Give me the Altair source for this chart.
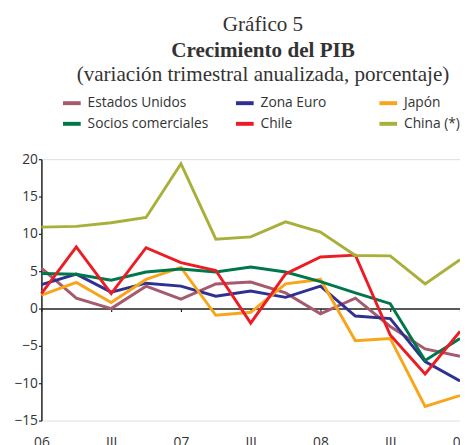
import altair as alt
import pandas as pd

# Quarters 2006 Q1 .. 2009 Q1 (index 0..12)
quarters = list(range(13))
tick_values = [0, 2, 4, 6, 8, 10, 12]
tick_labels = ["06", "III", "07", "III", "08", "III", "09"]

series_names = ["Estados Unidos", "Zona Euro", "Japón",
                "Socios comerciales", "Chile", "China (*)"]
series_colors = ["#a55a6e", "#2e3192", "#f9a51a",
                 "#00774a", "#ed1c24", "#a9b03a"]

estados_unidos = [5.4, 1.4, 0.0, 3.0, 1.25, 3.3, 3.55, 2.1, -0.7, 1.4, -2.4, -5.4, -6.4]
zona_euro = [3.2, 4.6, 2.2, 3.4, 3.0, 1.65, 2.35, 1.5, 3.0, -1.0, -1.35, -7.1, -9.7]
japon = [1.8, 3.5, 0.8, 3.9, 5.5, -0.9, -0.5, 3.3, 3.9, -4.3, -4.0, -13.1, -11.65]
socios = [4.7, 4.6, 3.8, 4.9, 5.3, 4.9, 5.55, 4.9, 3.6, 2.1, 0.65, -6.95, -4.0]
chile = [2.0, 8.25, 2.0, 8.15, 6.15, 5.1, -1.95, 4.65, 6.9, 7.15, -3.55, -8.75, -3.05]
china = [10.9, 11.0, 11.5, 12.2, 19.4, 9.3, 9.6, 11.6, 10.25, 7.1, 7.05, 3.3, 6.55]

values = [estados_unidos, zona_euro, japon, socios, chile, china]

rows = []
for name, vals in zip(series_names, values):
    for q, v in zip(quarters, vals):
        rows.append({"q": q, "serie": name, "valor": v})
df = pd.DataFrame(rows)

title_lines = ["Gráfico 5", "Crecimiento del PIB",
               "(variación trimestral anualizada, porcentaje)"]

label_map = "{" + ",".join(f"{v}: '{l}'" for v, l in zip(tick_values, tick_labels)) + "}"

PLOT_W, PLOT_H = 426, 266
TXT = "#333333"
PAD = "\u00a0" * 7 + "\u200b"

lines = alt.Chart(df).mark_line(strokeWidth=3).encode(
    x=alt.X("q:Q",
            scale=alt.Scale(domain=[0, 12], nice=False, zero=False),
            axis=alt.Axis(values=tick_values, labelExpr=f"{label_map}[datum.value]",
                          title=None, grid=False, offset=-114,
                          domainColor="#222222", domainWidth=1.5,
                          tickColor="#222222", tickSize=3, tickWidth=1.2,
                          labelPadding=126, labelFont="Open Sans", labelFontSize=14,
                          labelColor=TXT, labelOverlap=False, labelFlush=False)),
    y=alt.Y("valor:Q",
            scale=alt.Scale(domain=[-15, 20], nice=False),
            axis=alt.Axis(values=[-15, -10, -5, 0, 5, 10, 15, 20], title=None, grid=False,
                          domainColor="#222222", domainWidth=1.5,
                          tickColor="#222222", tickSize=3, tickWidth=1.2,
                          labelPadding=1, labelFont="Open Sans", labelFontSize=14,
                          labelColor=TXT)),
    color=alt.Color("serie:N",
                    scale=alt.Scale(domain=series_names, range=series_colors),
                    sort=series_names,
                    legend=alt.Legend(
                        title=None, orient="none", legendX=20, legendY=-68,
                        direction="horizontal",
                        columns=3, columnPadding=20, rowPadding=2,
                        symbolType="stroke", symbolSize=324, symbolStrokeWidth=4,
                        labelFont="Open Sans", labelFontSize=14, labelColor=TXT,
                        labelOffset=5,
                        labelExpr=f"datum.label == 'Zona Euro' ? 'Zona Euro{PAD}' : datum.label")),
    order=alt.Order("serie:N"),
)

TX = 225.5
t1 = alt.Chart(pd.DataFrame({"t": [title_lines[0]]})).mark_text(
    font="Liberation Serif", fontSize=21.5, color=TXT, align="center", baseline="alphabetic"
).encode(text="t:N", x=alt.value(TX), y=alt.value(-130))
t2 = alt.Chart(pd.DataFrame({"t": [title_lines[1]]})).mark_text(
    font="Liberation Serif", fontSize=21.5, fontWeight="bold", color=TXT, align="center",
    baseline="alphabetic"
).encode(text="t:N", x=alt.value(TX), y=alt.value(-104))
t3 = alt.Chart(pd.DataFrame({"t": [title_lines[2]]})).mark_text(
    font="Liberation Serif", fontSize=21.5, color=TXT, align="center", baseline="alphabetic"
).encode(text="t:N", x=alt.value(TX), y=alt.value(-80))

chart = alt.layer(lines, t1, t2, t3).properties(
    width=PLOT_W, height=PLOT_H,
    autosize=alt.AutoSizeParams(type="none"),
    padding={"left": 34, "top": 150, "right": 0, "bottom": 21},
).configure_view(stroke=None).configure(background="white")

chart.save("out.html", embed_options={"renderer": "svg", "actions": False})
